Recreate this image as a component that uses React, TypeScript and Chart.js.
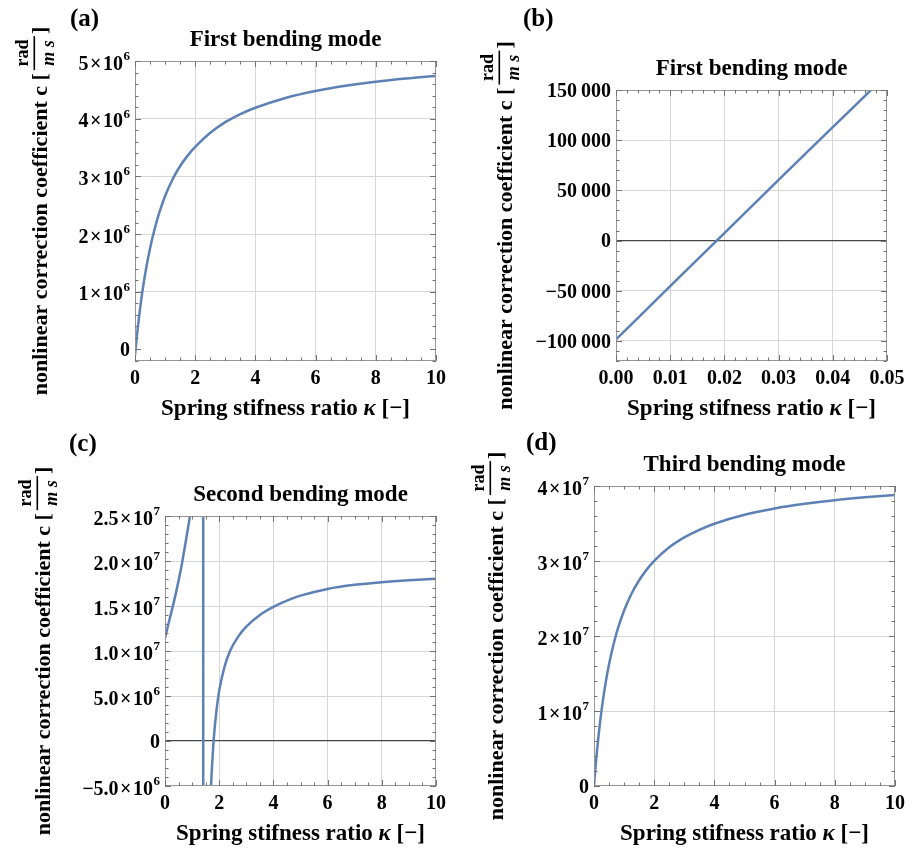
import React, { useEffect, useRef } from "react";
import { Chart, registerables } from "chart.js";

Chart.register(...registerables);

const W = 917;
const H = 850;
const SERIF = '"Liberation Serif", "Times New Roman", Times, serif';
const CURVE_COLOR = "rgb(94,129,181)";
const GRID_COLOR = "rgb(214,214,214)";
const FRAME_COLOR = "rgb(150,150,150)";
const TICK_COLOR = "rgb(115,115,115)";
const ZERO_COLOR = "rgb(70,70,70)";

// ---------------- data ----------------
// (a) First bending mode, kappa 0..10
const kappaA = [0, 0.025, 0.05, 0.1, 0.15, 0.2, 0.3, 0.4, 0.5, 0.6, 0.7, 0.8, 1.0, 1.25, 1.5, 1.75, 2, 2.5, 3, 3.5, 4, 5, 6, 7, 8, 9, 10];
const coeffA = [-0.099e6, 0.04e6, 0.17e6, 0.41e6, 0.63e6, 0.835e6, 1.19e6, 1.49e6, 1.75e6, 1.98e6, 2.18e6, 2.36e6, 2.66e6, 2.95e6, 3.18e6, 3.36e6, 3.51e6, 3.755e6, 3.94e6, 4.08e6, 4.19e6, 4.36e6, 4.48e6, 4.57e6, 4.64e6, 4.695e6, 4.74e6];

// (b) First bending mode, zoom kappa 0..0.05
const kappaB = [0, 0.01, 0.02, 0.03, 0.04, 0.05];
const coeffB = [-98500, -45500, 7500, 60500, 113000, 165500];

// (c) Second bending mode (pole near kappa = 1.41)
const kappaC = [0, 0.1, 0.2, 0.3, 0.4, 0.5, 0.6, 0.7, 0.8, 0.9, 1.0, 1.1, 1.2, 1.3, 1.37, 1.405, 1.415, 1.45, 1.5, 1.6, 1.65, 1.7, 1.75, 1.8, 1.9, 2.0, 2.2, 2.4, 2.7, 3, 3.5, 4, 4.5, 5, 6, 7, 8, 9, 10];
const coeffC = [1.14e7, 1.27e7, 1.39e7, 1.51e7, 1.64e7, 1.78e7, 1.93e7, 2.1e7, 2.28e7, 2.46e7, 2.66e7, 2.95e7, 3.5e7, 5e7, 1e8, 1e9, -1e9, -1.2e8, -5e7, -1.7e7, -1.0e7, -5.0e6, -2.1e6, 0.3e6, 3.4e6, 5.6e6, 8.3e6, 1.0e7, 1.16e7, 1.27e7, 1.4e7, 1.49e7, 1.56e7, 1.615e7, 1.69e7, 1.735e7, 1.765e7, 1.787e7, 1.804e7];

// (d) Third bending mode
const kappaD = [0, 0.05, 0.1, 0.2, 0.3, 0.4, 0.5, 0.6, 0.7, 0.8, 1.0, 1.25, 1.5, 1.75, 2, 2.5, 3, 3.5, 4, 5, 6, 7, 8, 9, 10];
const coeffD = [0, 2.49e6, 4.7e6, 8.46e6, 1.152e7, 1.407e7, 1.623e7, 1.807e7, 1.967e7, 2.107e7, 2.339e7, 2.566e7, 2.743e7, 2.885e7, 3.001e7, 3.182e7, 3.314e7, 3.416e7, 3.497e7, 3.616e7, 3.7e7, 3.762e7, 3.811e7, 3.849e7, 3.88e7];

// ---------------- ticks ----------------
const kTicks = [0, 2, 4, 6, 8, 10];
const kTickLabels = ["0", "2", "4", "6", "8", "10"];
const kTicksB = [0, 0.01, 0.02, 0.03, 0.04, 0.05];
const kTickLabelsB = ["0.00", "0.01", "0.02", "0.03", "0.04", "0.05"];

const cTicksA = [0, 1e6, 2e6, 3e6, 4e6, 5e6];
const cTickLabelsA = ["0", "1×10^6", "2×10^6", "3×10^6", "4×10^6", "5×10^6"];
const cTicksB = [-100000, -50000, 0, 50000, 100000, 150000];
const cTickLabelsB = ["−100\u2009000", "−50\u2009000", "0", "50\u2009000", "100\u2009000", "150\u2009000"];
const cTicksC = [-5e6, 0, 5e6, 1e7, 1.5e7, 2e7, 2.5e7];
const cTickLabelsC = ["−5.0×10^6", "0", "5.0×10^6", "1.0×10^7", "1.5×10^7", "2.0×10^7", "2.5×10^7"];
const cTicksD = [0, 1e7, 2e7, 3e7, 4e7];
const cTickLabelsD = ["0", "1×10^7", "2×10^7", "3×10^7", "4×10^7"];

const titles = ["First bending mode", "First bending mode", "Second bending mode", "Third bending mode"];
const letters = ["(a)", "(b)", "(c)", "(d)"];

type PanelSpec = {
  id: string;
  kappa: number[];
  coeff: number[];
  area: { l: number; t: number; r: number; b: number };
  xMin: number; xMax: number; xTicks: number[]; xLabels: string[]; xMinor: number; gridX: number[];
  yMin: number; yMax: number; yTicks: number[]; yLabels: string[]; yMinor: number; gridY: number[];
  zeroLine: boolean;
  title: string; letter: string; letterX: number; letterBase: number; yTitleX: number;
};

const PANELS: PanelSpec[] = [
  {
    id: "a", kappa: kappaA, coeff: coeffA,
    area: { l: 135, t: 61, r: 436, b: 361 },
    xMin: 0, xMax: 10, xTicks: kTicks, xLabels: kTickLabels, xMinor: 0.5, gridX: [2, 4, 6, 8],
    yMin: -0.2e6, yMax: 5e6, yTicks: cTicksA, yLabels: cTickLabelsA, yMinor: 2e5, gridY: [1e6, 2e6, 3e6, 4e6],
    zeroLine: false,
    title: titles[0], letter: letters[0], letterX: 70, letterBase: 26, yTitleX: 47,
  },
  {
    id: "b", kappa: kappaB, coeff: coeffB,
    area: { l: 616, t: 90, r: 887, b: 361 },
    xMin: 0, xMax: 0.05, xTicks: kTicksB, xLabels: kTickLabelsB, xMinor: 0.002, gridX: [0.01, 0.02, 0.03, 0.04],
    yMin: -120000, yMax: 150000, yTicks: cTicksB, yLabels: cTickLabelsB, yMinor: 10000, gridY: [-100000, -50000, 50000, 100000],
    zeroLine: true,
    title: titles[1], letter: letters[1], letterX: 523, letterBase: 26, yTitleX: 512,
  },
  {
    id: "c", kappa: kappaC, coeff: coeffC,
    area: { l: 165, t: 516, r: 436, b: 786 },
    xMin: 0, xMax: 10, xTicks: kTicks, xLabels: kTickLabels, xMinor: 0.5, gridX: [2, 4, 6, 8],
    yMin: -5e6, yMax: 2.5e7, yTicks: cTicksC, yLabels: cTickLabelsC, yMinor: 1e6, gridY: [5e6, 1e7, 1.5e7, 2e7],
    zeroLine: true,
    title: titles[2], letter: letters[2], letterX: 69, letterBase: 451, yTitleX: 50,
  },
  {
    id: "d", kappa: kappaD, coeff: coeffD,
    area: { l: 594, t: 486, r: 895, b: 786 },
    xMin: 0, xMax: 10, xTicks: kTicks, xLabels: kTickLabels, xMinor: 0.5, gridX: [2, 4, 6, 8],
    yMin: 0, yMax: 4e7, yTicks: cTicksD, yLabels: cTickLabelsD, yMinor: 2e6, gridY: [1e7, 2e7, 3e7],
    zeroLine: false,
    title: titles[3], letter: letters[3], letterX: 526, letterBase: 450, yTitleX: 503,
  },
];

const X_TITLE = [
  { t: "Spring stifness ratio ", it: false },
  { t: "κ", it: true },
  { t: " [−]", it: false },
];
const Y_TITLE_MAIN = "nonlinear correction coefficient c [";
const Y_TITLE_NUM = "rad";
const Y_TITLE_DEN = "m s";
const Y_TITLE_CLOSE = "]";

function font(size: number, italic = false) {
  return `${italic ? "italic " : ""}bold ${size}px ${SERIF}`;
}

function drawYLabel(ctx: CanvasRenderingContext2D, label: string, xr: number, y: number) {
  ctx.fillStyle = "#000";
  if (label.indexOf("^") < 0) {
    ctx.font = font(20);
    ctx.textAlign = "right";
    ctx.textBaseline = "alphabetic";
    ctx.fillText(label, xr, y + 6.8);
    return;
  }
  const [base, exp] = label.split("^");
  const man = base.split("×")[0];
  ctx.font = font(20);
  const wm = ctx.measureText(man).width;
  const wx = ctx.measureText("×").width;
  const w10 = ctx.measureText("10").width;
  ctx.font = font(13);
  const we = ctx.measureText(exp).width;
  const gap = 1.5;
  const total = wm + gap + wx + gap + w10 + 0.5 + we;
  let x = xr - total;
  const by = y + 8.5;
  ctx.textAlign = "left";
  ctx.textBaseline = "alphabetic";
  ctx.font = font(20);
  ctx.fillText(man, x, by);
  x += wm + gap;
  ctx.fillText("×", x, by);
  x += wx + gap;
  ctx.fillText("10", x, by);
  x += w10 + 0.5;
  ctx.font = font(13);
  ctx.fillText(exp, x, by - 9.5);
}

function drawYTitle(ctx: CanvasRenderingContext2D, xBase: number, yCenter: number) {
  ctx.save();
  ctx.translate(xBase, yCenter);
  ctx.rotate(-Math.PI / 2);
  ctx.fillStyle = "#000";
  ctx.textBaseline = "alphabetic";
  ctx.font = font(22);
  const w1 = ctx.measureText(Y_TITLE_MAIN).width;
  const wc = ctx.measureText(Y_TITLE_CLOSE).width;
  const fracW = 34;
  const total = w1 + 3 + fracW + 2 + wc;
  let u = -total / 2;
  ctx.textAlign = "left";
  ctx.fillText(Y_TITLE_MAIN, u, 0);
  u += w1 + 3;
  ctx.fillRect(u, -13.5, fracW, 1.6);
  ctx.textAlign = "center";
  ctx.font = font(18);
  ctx.fillText(Y_TITLE_NUM, u + fracW / 2, -19.5);
  ctx.font = font(18, true);
  ctx.fillText(Y_TITLE_DEN, u + fracW / 2, 6.5);
  u += fracW + 2;
  ctx.textAlign = "left";
  ctx.font = font(22);
  ctx.fillText(Y_TITLE_CLOSE, u, 0);
  ctx.restore();
}

function drawXTitle(ctx: CanvasRenderingContext2D, cx: number, base: number) {
  ctx.fillStyle = "#000";
  ctx.textBaseline = "alphabetic";
  ctx.textAlign = "left";
  let total = 0;
  const widths = X_TITLE.map((s) => {
    ctx.font = font(23, s.it);
    const w = ctx.measureText(s.t).width;
    total += w;
    return w;
  });
  let x = cx - total / 2;
  X_TITLE.forEach((s, i) => {
    ctx.font = font(23, s.it);
    ctx.fillText(s.t, x, base);
    x += widths[i];
  });
}

function makeDecor(p: PanelSpec) {
  return {
    id: "decor" + p.id,
    afterDraw(chart: any) {
      const ctx: CanvasRenderingContext2D = chart.ctx;
      const xs = chart.scales.x;
      const ys = chart.scales.y;
      const { left, right, top, bottom } = chart.chartArea;
      ctx.save();

      // frame
      ctx.strokeStyle = FRAME_COLOR;
      ctx.lineWidth = 1;
      ctx.strokeRect(Math.round(left) + 0.5, Math.round(top) + 0.5, Math.round(right) - Math.round(left) - 1, Math.round(bottom) - Math.round(top) - 1);

      // tick marks (inward, all four sides)
      ctx.beginPath();
      const near = (v: number, arr: number[], step: number) => arr.some((a) => Math.abs(a - v) < step * 1e-3);
      const xTickAt = (v: number, len: number) => {
        const px = Math.round(xs.getPixelForValue(v)) + 0.5;
        ctx.moveTo(px, bottom);
        ctx.lineTo(px, bottom - len);
        ctx.moveTo(px, top);
        ctx.lineTo(px, top + len);
      };
      const yTickAt = (v: number, len: number) => {
        const py = Math.round(ys.getPixelForValue(v)) + 0.5;
        ctx.moveTo(left, py);
        ctx.lineTo(left + len, py);
        ctx.moveTo(right, py);
        ctx.lineTo(right - len, py);
      };
      p.xTicks.forEach((v) => xTickAt(v, 6));
      for (let n = Math.ceil(p.xMin / p.xMinor - 1e-9); n * p.xMinor <= p.xMax + 1e-12; n++) {
        const v = n * p.xMinor;
        if (!near(v, p.xTicks, p.xMinor)) xTickAt(v, 3.5);
      }
      p.yTicks.forEach((v) => yTickAt(v, 6));
      for (let n = Math.ceil(p.yMin / p.yMinor - 1e-9); n * p.yMinor <= p.yMax + 1e-6; n++) {
        const v = n * p.yMinor;
        if (!near(v, p.yTicks, p.yMinor)) yTickAt(v, 3.5);
      }
      ctx.strokeStyle = TICK_COLOR;
      ctx.lineWidth = 1;
      ctx.stroke();

      // x tick labels
      ctx.fillStyle = "#000";
      ctx.font = font(20);
      ctx.textAlign = "center";
      ctx.textBaseline = "alphabetic";
      p.xTicks.forEach((v, i) => {
        ctx.fillText(p.xLabels[i], xs.getPixelForValue(v), bottom + 22.5);
      });

      // y tick labels
      p.yTicks.forEach((v, i) => {
        drawYLabel(ctx, p.yLabels[i], left - 5, ys.getPixelForValue(v));
      });

      // panel title
      ctx.fillStyle = "#000";
      ctx.font = font(23);
      ctx.textAlign = "center";
      ctx.fillText(p.title, (left + right) / 2, top - 15);

      // panel letter
      ctx.font = font(25);
      ctx.textAlign = "left";
      ctx.fillText(p.letter, p.letterX, p.letterBase);

      // axis titles
      drawXTitle(ctx, (left + right) / 2, bottom + 53.5);
      drawYTitle(ctx, p.yTitleX, (top + bottom) / 2);

      ctx.restore();
    },
  };
}

function Panel({ p }: { p: PanelSpec }) {
  const ref = useRef<HTMLCanvasElement>(null);
  useEffect(() => {
    const canvas = ref.current;
    if (!canvas) return;
    const data = p.kappa.map((k, i) => ({ x: k, y: p.coeff[i] }));
    const chart = new Chart(canvas, {
      type: "line",
      data: {
        datasets: [
          {
            data,
            borderColor: CURVE_COLOR,
            borderWidth: 2.5,
            pointRadius: 0,
            fill: false,
            cubicInterpolationMode: "monotone",
          } as any,
        ],
      },
      options: {
        responsive: false,
        maintainAspectRatio: false,
        devicePixelRatio: 1,
        animation: false,
        events: [],
        layout: {
          padding: { left: p.area.l, top: p.area.t, right: W - p.area.r, bottom: H - p.area.b },
        },
        plugins: { legend: { display: false }, tooltip: { enabled: false }, title: { display: false } },
        scales: {
          x: {
            type: "linear",
            min: p.xMin,
            max: p.xMax,
            afterBuildTicks: (s: any) => {
              s.ticks = p.gridX.map((v) => ({ value: v }));
            },
            afterFit: (s: any) => {
              s.height = 0;
            },
            ticks: { display: false },
            border: { display: false },
            grid: { drawTicks: false, color: GRID_COLOR, lineWidth: 1 },
          },
          y: {
            type: "linear",
            min: p.yMin,
            max: p.yMax,
            afterBuildTicks: (s: any) => {
              const vals = p.zeroLine ? [...p.gridY, 0] : p.gridY;
              s.ticks = vals.map((v) => ({ value: v }));
            },
            afterFit: (s: any) => {
              s.width = 0;
            },
            ticks: { display: false },
            border: { display: false },
            grid: {
              drawTicks: false,
              color: (c: any) => (c.tick && c.tick.value === 0 ? ZERO_COLOR : GRID_COLOR),
              lineWidth: (c: any) => (c.tick && c.tick.value === 0 ? 1.2 : 1),
            },
          },
        },
      } as any,
      plugins: [makeDecor(p)],
    });
    return () => chart.destroy();
  }, [p]);
  return <canvas ref={ref} width={W} height={H} style={{ position: "absolute", left: 0, top: 0 }} />;
}

export default function App() {
  return (
    <div style={{ position: "absolute", left: 0, top: 0, width: W, height: H, background: "#fff" }}>
      {PANELS.map((p) => (
        <Panel key={p.id} p={p} />
      ))}
    </div>
  );
}
